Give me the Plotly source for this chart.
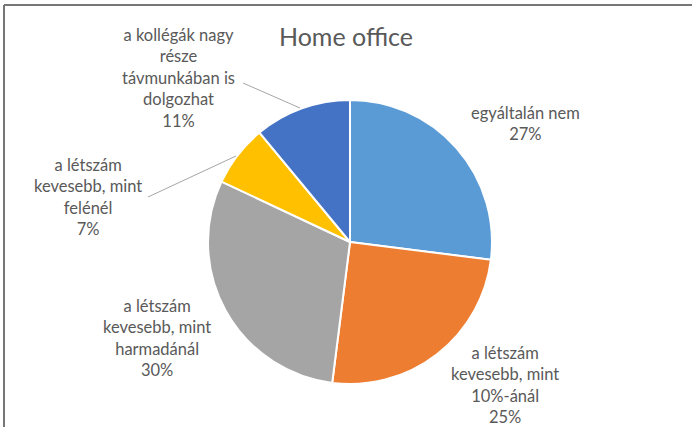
import plotly.graph_objects as go

W, H = 692, 427

categories = [
    'egyáltalán nem',
    'a létszám kevesebb, mint 10%-ánál',
    'a létszám kevesebb, mint harmadánál',
    'a létszám kevesebb, mint felénél',
    'a kollégák nagy része távmunkában is dolgozhat',
]
label_lines = [
    ['egyáltalán nem'],
    ['a létszám', 'kevesebb, mint', '10%-ánál'],
    ['a létszám', 'kevesebb, mint', 'harmadánál'],
    ['a létszám', 'kevesebb, mint', 'felénél'],
    ['a kollégák nagy', 'része', 'távmunkában is', 'dolgozhat'],
]
values = [27, 25, 30, 7, 11]
colors = ['#5B9BD5', '#ED7D31', '#A5A5A5', '#FFC000', '#4472C4']

# label centres in pixels (x, y of block centre)
label_pos = [(525, 123), (505, 385), (157, 338), (88, 197), (178, 78)]

def px(x, y):
    return x / W, 1 - y / H

fig = go.Figure()

fig.add_trace(go.Pie(
    labels=categories,
    values=values,
    sort=False,
    direction='clockwise',
    rotation=0,
    marker=dict(colors=colors, line=dict(color='white', width=2)),
    textinfo='none',
    hoverinfo='label+percent',
    domain=dict(x=[208 / W, 492 / W], y=[1 - 384 / H, 1 - 100 / H]),
    showlegend=False,
))

total = sum(values)
for lines, v, (x, y) in zip(label_lines, values, label_pos):
    pct = f'{round(100 * v / total)}%'
    ax, ay = px(x, y)
    fig.add_annotation(
        x=ax, y=ay, xref='paper', yref='paper',
        text='<br>'.join(lines + [pct]),
        showarrow=False, align='center',
        xanchor='center', yanchor='middle',
        font=dict(family='Lato, Carlito, sans-serif', size=16.5, color='#595959'),
    )

# leader lines
for (x0, y0, x1, y1) in [(243, 83, 300, 108), (148, 197, 236, 156)]:
    a, b = px(x0, y0)
    c, d = px(x1, y1)
    fig.add_shape(type='line', xref='paper', yref='paper', x0=a, y0=b, x1=c, y1=d,
                  line=dict(color='#A6A6A6', width=1))

# chart frame (cropped)
fig.add_shape(type='line', xref='paper', yref='paper', x0=4 / W, y0=1 - 5 / H, x1=1.01, y1=1 - 5 / H,
              line=dict(color='#767676', width=2))
fig.add_shape(type='line', xref='paper', yref='paper', x0=4 / W, y0=1 - 5 / H, x1=4 / W, y1=-0.01,
              line=dict(color='#767676', width=2))

fig.update_layout(
    width=W, height=H,
    margin=dict(l=0, r=0, t=0, b=0),
    paper_bgcolor='white',
    title=dict(text='Home office', x=0.5, xanchor='center', y=1 - 37 / H, yanchor='middle',
               font=dict(family='Lato, Carlito, sans-serif', size=25, color='#595959')),
)

fig.write_html('out.html', config={'displayModeBar': False},
               post_script="document.body.style.margin='0px';document.body.style.overflow='hidden';")
